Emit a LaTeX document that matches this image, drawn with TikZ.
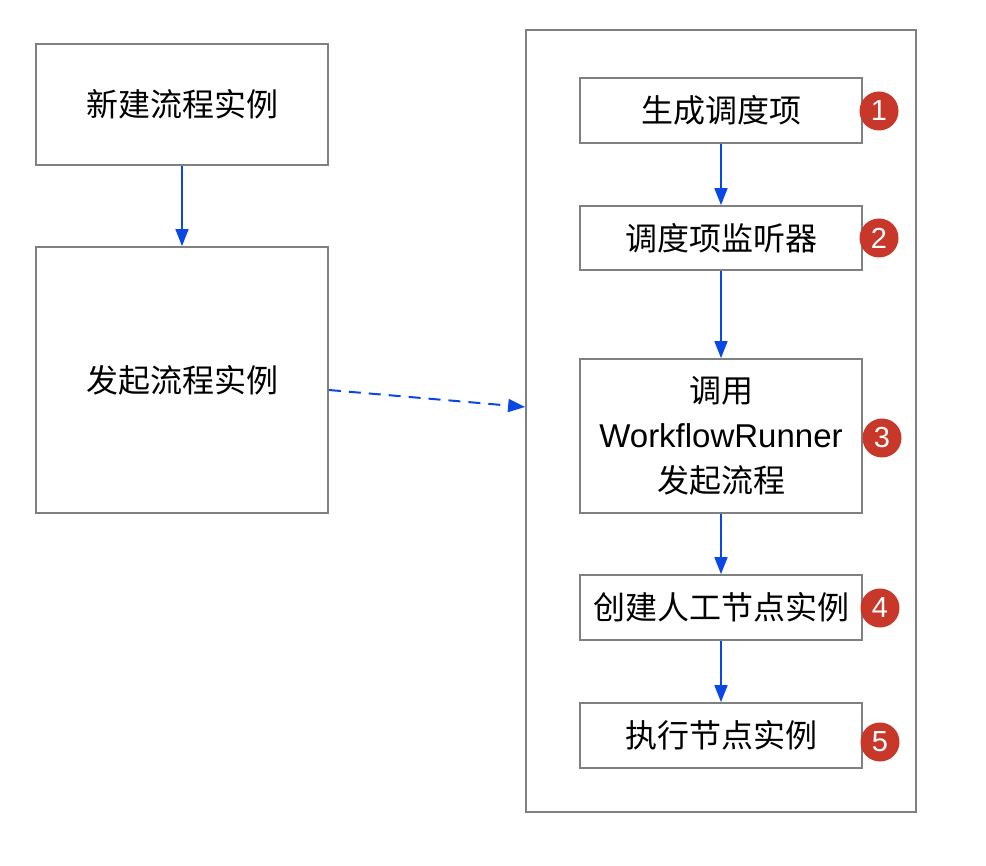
\documentclass[tikz,border=0pt]{standalone}
\usepackage{fontspec}
\setmainfont{Liberation Sans}
\newfontfamily\cjk{Noto Sans CJK SC}
\usetikzlibrary{arrows.meta}
\definecolor{boxgray}{HTML}{808080}
\definecolor{arrblue}{HTML}{0A48E6}
\definecolor{badgered}{HTML}{C8382A}
\begin{document}
\begin{tikzpicture}[x=1pt,y=-1pt,
  box/.style={draw=boxgray,line width=1.8pt,rectangle,inner sep=0pt,align=center,
    font=\fontsize{32}{45}\selectfont\cjk},
  badge/.style={circle,fill=badgered,minimum size=39pt,inner sep=0pt,text=white,
    font=\fontsize{29}{29}\selectfont},
  flow/.style={draw=arrblue,line width=1.6pt,-{Triangle[length=17pt,width=13pt]}},
  dflow/.style={flow,line width=2pt,dash pattern=on 12pt off 8pt}]
\useasboundingbox[fill=white] (0,0) rectangle (986,866);
\node[box,minimum width=292pt,minimum height=121pt] (n1) at (182,104.5) {新建流程实例};
\node[box,minimum width=292pt,minimum height=266pt] (n2) at (182,380) {发起流程实例};
\node[box,minimum width=390pt,minimum height=782pt] (cont) at (721,421) {};
\node[box,minimum width=282pt,minimum height=65pt] (r1) at (721,110.5) {生成调度项};
\node[box,minimum width=282pt,minimum height=64pt] (r2) at (721,238) {调度项监听器};
\node[box,minimum width=282pt,minimum height=154pt] (r3) at (721,436) {调用\\{\fontspec{Liberation Sans}\fontsize{33}{45}\selectfont WorkflowRunner}\\发起流程};
\node[box,minimum width=282pt,minimum height=65pt] (r4) at (721,607.5) {创建人工节点实例};
\node[box,minimum width=282pt,minimum height=65pt] (r5) at (721,735.5) {执行节点实例};
\node[badge] (b1) at (879,111) {1};
\node[badge] (b2) at (879,238) {2};
\node[badge] (b3) at (882,438) {3};
\node[badge] (b4) at (880,608) {4};
\node[badge] (b5) at (880,742) {5};
\draw[flow] (n1) -- (n2);
\draw[flow] (r1) -- (r2);
\draw[flow] (r2) -- (r3);
\draw[flow] (r3) -- (r4);
\draw[flow] (r4) -- (r5);
\draw[dflow] ([yshift=-10pt]n2.east) -- ([yshift=14pt]cont.west);
\end{tikzpicture}
\end{document}
